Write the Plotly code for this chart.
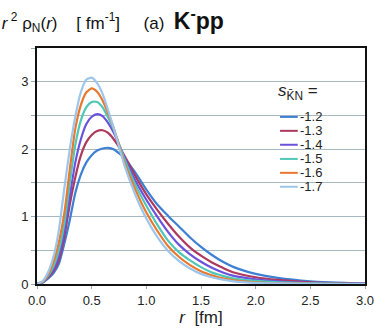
import plotly.graph_objects as go

r = [0, 0.05, 0.1, 0.15, 0.2, 0.25, 0.3, 0.35, 0.4, 0.45, 0.5, 0.55, 0.6, 0.65, 0.7,
     0.8, 0.9, 1.0, 1.1, 1.2, 1.3, 1.4, 1.5, 1.6, 1.7, 1.8, 2.0, 2.2, 2.5, 3.0]

s_values = ["-1.2", "-1.3", "-1.4", "-1.5", "-1.6", "-1.7"]

rho_12 = [0, 0.02, 0.08, 0.16, 0.30, 0.60, 0.95, 1.35, 1.62, 1.80, 1.91, 1.98, 2.01, 2.02, 2.00,
          1.87, 1.65, 1.40, 1.18, 1.01, 0.85, 0.69, 0.55, 0.43, 0.33, 0.25, 0.15, 0.09, 0.04, 0.005]
rho_13 = [0, 0.025, 0.10, 0.19, 0.36, 0.70, 1.18, 1.58, 1.90, 2.10, 2.21, 2.27, 2.28, 2.24, 2.15,
          1.90, 1.60, 1.33, 1.10, 0.89, 0.70, 0.54, 0.42, 0.32, 0.24, 0.17, 0.10, 0.06, 0.025, 0.003]
rho_14 = [0, 0.03, 0.11, 0.22, 0.42, 0.78, 1.30, 1.80, 2.14, 2.37, 2.48, 2.52, 2.49, 2.39, 2.25,
          1.88, 1.53, 1.25, 1.00, 0.77, 0.58, 0.44, 0.33, 0.24, 0.17, 0.12, 0.07, 0.04, 0.015, 0.002]
rho_15 = [0, 0.03, 0.12, 0.26, 0.50, 0.90, 1.50, 2.06, 2.42, 2.62, 2.70, 2.70, 2.62, 2.47, 2.30,
          1.85, 1.47, 1.16, 0.88, 0.64, 0.47, 0.35, 0.25, 0.17, 0.12, 0.08, 0.045, 0.025, 0.01, 0]
rho_16 = [0, 0.035, 0.14, 0.32, 0.62, 1.05, 1.70, 2.30, 2.65, 2.84, 2.90, 2.85, 2.72, 2.53, 2.32,
          1.80, 1.40, 1.06, 0.79, 0.56, 0.40, 0.28, 0.19, 0.13, 0.085, 0.055, 0.025, 0.012, 0.004, 0]
rho_17 = [0, 0.04, 0.17, 0.40, 0.80, 1.42, 2.00, 2.48, 2.84, 3.03, 3.06, 2.98, 2.82, 2.58, 2.32,
          1.76, 1.32, 0.97, 0.70, 0.49, 0.34, 0.23, 0.15, 0.10, 0.065, 0.04, 0.017, 0.008, 0.002, 0]

series = [rho_12, rho_13, rho_14, rho_15, rho_16, rho_17]
colors = ["#3d7fd4", "#ad3a5c", "#6b52dc", "#4ec7b6", "#e9782f", "#9dc6ec"]

font = "Liberation Sans, Arial, sans-serif"
sp = "\u00a0"

fig = go.Figure()
for vals, col, name in zip(series, colors, s_values):
    fig.add_trace(go.Scatter(x=r, y=vals, mode="lines", name=name,
                             line=dict(color=col, width=2.2, shape="spline", smoothing=0.6)))

# hand-drawn legend (tighter spacing than plotly's own)
leg_y = [0.708, 0.649, 0.590, 0.530, 0.471, 0.412]
for name, col, yy in zip(s_values, colors, leg_y):
    fig.add_shape(type="line", xref="paper", yref="paper", x0=0.741, x1=0.795, y0=yy, y1=yy,
                  line=dict(color=col, width=2))
    fig.add_annotation(xref="paper", yref="paper", x=0.797, y=yy, text=name, showarrow=False,
                       xanchor="left", yanchor="middle", font=dict(size=13, color="#222"))
fig.add_annotation(xref="paper", yref="paper", x=0.795, y=0.815,
                   text="<i>s</i><sub>K\u0304N</sub> =", showarrow=False,
                   xanchor="center", yanchor="middle", font=dict(size=17, color="#222"))

title_txt = ("<i>r</i><sup>" + sp + "2</sup>" + sp + "\u03c1<sub>N</sub>(<i>r</i>)" + sp * 4
             + "[" + sp + "fm<sup>-1</sup>]" + sp * 5 + "(a)" + sp * 2
             + "<b><span style='font-size:23px'>K<sup>-</sup>pp</span></b>")

fig.update_layout(
    width=374, height=333,
    margin=dict(l=37, r=9, t=48, b=49),
    paper_bgcolor="white", plot_bgcolor="white",
    showlegend=False,
    font=dict(family=font, size=13, color="#222"),
    title=dict(text=title_txt, x=0.005, xanchor="left", y=0.932, yanchor="middle",
               font=dict(size=17, color="#111")),
)
fig.update_xaxes(range=[0, 3.0], dtick=0.5, tickformat=".1f", automargin=False,
                 ticklabeloverflow="allow",
                 showline=True, linecolor="#111", linewidth=2, mirror=True,
                 ticks="outside", ticklen=3, tickcolor="#9aa8b0",
                 showgrid=False, zeroline=False,
                 tickfont=dict(size=13),
                 title=dict(text="<i>r</i>" + sp * 2 + "[fm]", font=dict(size=17), standoff=2))
fig.update_yaxes(range=[0, 3.5], tickvals=[0, 1, 2, 3], automargin=False,
                 showline=True, linecolor="#111", linewidth=2, mirror=True,
                 ticks="outside", ticklen=4, tickcolor="#9aa8b0",
                 showgrid=True, gridcolor="#a9b9c0", gridwidth=1,
                 minor=dict(dtick=0.5, showgrid=True, gridcolor="#a9b9c0", ticks="outside",
                            ticklen=4, tickcolor="#9aa8b0"),
                 zeroline=False, tickfont=dict(size=13))

fig.write_html("out.html", config={"displayModeBar": False},
               post_script="document.body.style.margin='0';document.body.style.overflow='hidden';")
